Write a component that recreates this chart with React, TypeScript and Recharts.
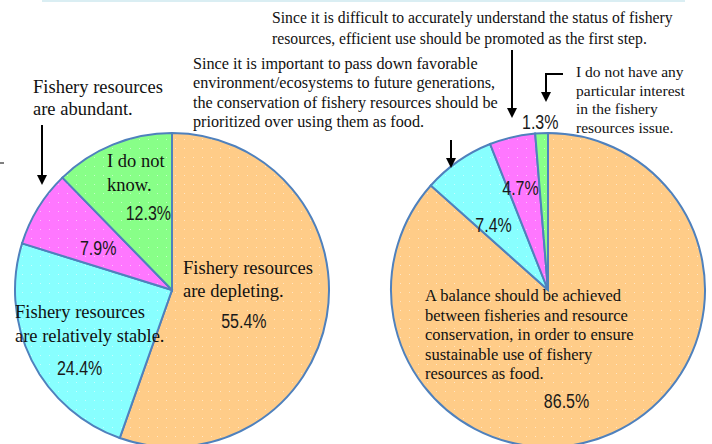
import React from 'react'
import { PieChart, Pie, Cell } from 'recharts'

// left pie: "How do you perceive the state of fishery resources?"
const leftCategories = [
  'Fishery resources\nare depleting.',
  'Fishery resources\nare relatively stable.',
  'Fishery resources\nare abundant.',
  'I do not\nknow.',
]
const leftValues = [55.4, 24.4, 7.9, 12.3]

// right pie
const rightCategories = [
  'A balance should be achieved\nbetween fisheries and resource\nconservation, in order to ensure\nsustainable use of fishery\nresources as food.',
  'Since it is important to pass down favorable\nenvironment/ecosystems to future generations,\nthe conservation of fishery resources should be\nprioritized over using them as food.',
  'Since it is difficult to accurately understand the status of fishery\nresources, efficient use should be promoted as the first step.',
  'I do not have any\nparticular interest\nin the fishery\nresources issue.',
]
const rightValues = [86.5, 7.4, 4.7, 1.3]

const sliceColors = ['#FFCC88', '#88FFFF', '#FF77FF', '#88FF88']
const patternIds = ['pOrange', 'pCyan', 'pPink', 'pGreen']

const leftData = leftCategories.map((name, i) => ({ name, value: leftValues[i] }))
const rightData = rightCategories.map((name, i) => ({ name, value: rightValues[i] }))

// where each percent label sits: angle shift from slice middle, fraction of radius
const leftPlace = [
  { da: -14, rf: 0.5 },
  { da: 13.5, rf: 0.77 },
  { da: 2, rf: 0.54 },
  { da: -5, rf: 0.51 },
]
const rightPlace = [
  { da: -14.7, rf: 0.72 },
  { da: 5, rf: 0.54 },
  { da: 2, rf: 0.67 },
  { da: 0.3, rf: 1.07 },
]

// where the category names go (text blocks)
const leftNames = [
  { x: 183, y: 274, size: 18.5, lh: 23 },
  { x: 15, y: 318, size: 18.5, lh: 23.5 },
  { x: 33, y: 93, size: 18.5, lh: 22 },
  { x: 107, y: 167, size: 18.5, lh: 23.5 },
]
const rightNames = [
  { x: 425, y: 301, size: 16.5, lh: 19.5 },
  { x: 193, y: 69, size: 16.2, lh: 19.3 },
  { x: 272, y: 23, size: 15.7, lh: 20.5 },
  { x: 576, y: 77, size: 15.5, lh: 18.7 },
]

const SERIF = "'Liberation Serif', 'Times New Roman', serif"
const SANS = "'Liberation Sans', Arial, sans-serif"
const RAD = Math.PI / 180

function makeLabel(place: { da: number; rf: number }[]) {
  return (p: any) => {
    const pl = place[p.index]
    const a = (p.midAngle + pl.da) * RAD
    const x = p.cx + p.outerRadius * pl.rf * Math.cos(a)
    const y = p.cy - p.outerRadius * pl.rf * Math.sin(a)
    // narrow, tall digits like the original
    return (
      <text x={0} y={0} transform={`translate(${x},${y}) scale(0.8,1)`} textAnchor="middle"
        dominantBaseline="central" fill="#1a1a1a" style={{ fontFamily: SANS, fontSize: 20 }}>
        {`${Number(p.value).toFixed(1)}%`}
      </text>
    )
  }
}

function Names({ names, layout }: { names: string[]; layout: { x: number; y: number; size: number; lh: number }[] }) {
  return (
    <>
      {names.map((n, i) => (
        <text key={i} x={layout[i].x} y={layout[i].y} fill="#111" style={{ fontFamily: SERIF, fontSize: layout[i].size }}>
          {n.split('\n').map((ln, j) => (
            <tspan key={j} x={layout[i].x} dy={j === 0 ? 0 : layout[i].lh}>{ln}</tspan>
          ))}
        </text>
      ))}
    </>
  )
}

function Arrow({ pts }: { pts: number[][] }) {
  const [tx, ty] = pts[pts.length - 1]
  const shaft = pts.map((q, i) => (i === pts.length - 1 ? `${q[0]},${q[1] - 9}` : `${q[0]},${q[1]}`)).join(' ')
  return (
    <g>
      <polyline points={shaft} fill="none" stroke="#000" strokeWidth={2} />
      <polygon points={`${tx - 5},${ty - 10} ${tx + 5},${ty - 10} ${tx},${ty}`} fill="#000" />
    </g>
  )
}

export default function App() {
  return (
    <div style={{ position: 'absolute', left: 0, top: 0, width: 712, height: 444, background: '#fff' }}>
      <svg width={0} height={0} style={{ position: 'absolute' }}>
        <defs>
          {sliceColors.map((c, i) => (
            <pattern key={i} id={patternIds[i]} width={9} height={9} patternUnits="userSpaceOnUse">
              <rect width={9} height={9} fill={c} />
              <rect x={4} y={4} width={1} height={1} fill="#fff" opacity={0.5} />
            </pattern>
          ))}
        </defs>
      </svg>
      <PieChart width={712} height={444} margin={{ top: 0, right: 0, bottom: 0, left: 0 }}>
        <Pie data={leftData} dataKey="value" nameKey="name" cx={172} cy={290} outerRadius={157}
          startAngle={90} endAngle={-270} stroke="#4F81BD" strokeWidth={2}
          labelLine={false} label={makeLabel(leftPlace)} isAnimationActive={false}>
          {leftData.map((_, i) => <Cell key={i} fill={`url(#${patternIds[i]})`} />)}
        </Pie>
        <Pie data={rightData} dataKey="value" nameKey="name" cx={548} cy={290} outerRadius={157}
          startAngle={90} endAngle={-270} stroke="#4F81BD" strokeWidth={2}
          labelLine={false} label={makeLabel(rightPlace)} isAnimationActive={false}>
          {rightData.map((_, i) => <Cell key={i} fill={`url(#${patternIds[i]})`} />)}
        </Pie>
      </PieChart>
      <svg width={712} height={444} style={{ position: 'absolute', left: 0, top: 0, pointerEvents: 'none' }}>
        <line x1={42} y1={1} x2={685} y2={1} stroke="#DAEEF3" strokeWidth={2} />
        <line x1={0} y1={163} x2={4} y2={163} stroke="#000" strokeWidth={1} />
        <Names names={leftCategories} layout={leftNames} />
        <Names names={rightCategories} layout={rightNames} />
        <Arrow pts={[[42, 125], [42, 185]]} />
        <Arrow pts={[[451, 140], [451, 168]]} />
        <Arrow pts={[[512, 50], [512, 118]]} />
        <Arrow pts={[[563, 74], [546, 74], [546, 102]]} />
      </svg>
    </div>
  )
}
